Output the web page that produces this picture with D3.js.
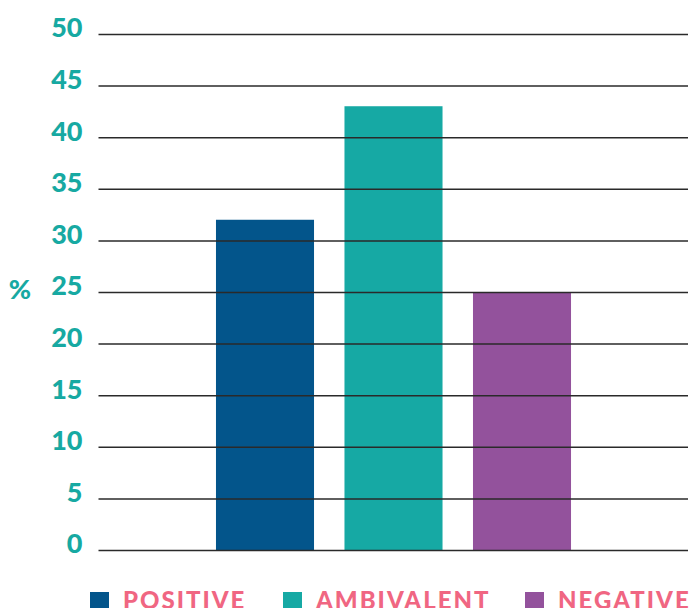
<html>
<head>
<script src="https://cdn.jsdelivr.net/npm/d3@7"></script>
<style>
  body { margin: 0; background: #fff; }
</style>
</head>
<body>
<script>
// data
var categories = ["POSITIVE", "AMBIVALENT", "NEGATIVE"];
var values = [32, 43, 25];
var colors = ["#03558b", "#16a9a4", "#93529c"];
var yTicks = [0, 5, 10, 15, 20, 25, 30, 35, 40, 45, 50];

var w = 693, h = 608;
var font = "Lato, 'Open Sans', sans-serif";

var svg = d3.select("body").append("svg").attr("width", w).attr("height", h);

var yScale = d3.scaleLinear().domain([0, 50]).range([550, 34]);
var xScale = d3.scaleBand().domain(categories).range([200.75, 586.25])
  .paddingInner(0.237).paddingOuter(0.1185);

// bars
svg.selectAll("rect.bar")
  .data(values)
  .enter()
  .append("rect")
  .attr("class", "bar")
  .attr("x", function(d, i){ return xScale(categories[i]); })
  .attr("width", xScale.bandwidth())
  .attr("y", function(d){ return yScale(d); })
  .attr("height", function(d){ return yScale(0) - yScale(d); })
  .attr("fill", function(d, i){ return colors[i]; });

// gridlines on top of the bars
var yAxis = d3.axisLeft(yScale).tickValues(yTicks).tickSize(-589.5).tickPadding(16);
var g = svg.append("g").attr("transform", "translate(98.5,0)").call(yAxis);
g.select(".domain").remove();
g.selectAll(".tick line").attr("stroke", "#2a2a2a").attr("stroke-width", 1.5);
g.selectAll(".tick text")
  .attr("fill", "#17a9a2")
  .attr("font-family", font)
  .attr("font-weight", "900")
  .attr("font-size", "27px")
  .attr("dy", "0.11em");

// axis title
svg.append("text")
  .attr("x", 20).attr("y", 290)
  .attr("text-anchor", "middle")
  .attr("dy", "0.35em")
  .attr("fill", "#17a9a2")
  .attr("font-family", font)
  .attr("font-weight", "900")
  .attr("font-size", "27px")
  .text("%");

// legend
var legendX = [90, 283, 525];
var leg = svg.selectAll("g.leg")
  .data(categories)
  .enter()
  .append("g")
  .attr("class", "leg")
  .attr("transform", function(d, i){ return "translate(" + legendX[i] + ",592)"; });
leg.append("rect")
  .attr("width", 19).attr("height", 19)
  .attr("fill", function(d, i){ return colors[i]; });
leg.append("text")
  .attr("x", 33).attr("y", 17)
  .attr("fill", "#f06682")
  .attr("font-family", font)
  .attr("font-weight", "900")
  .attr("font-size", "24px")
  .attr("letter-spacing", "2px")
  .text(function(d){ return d; });
</script>
</body>
</html>
